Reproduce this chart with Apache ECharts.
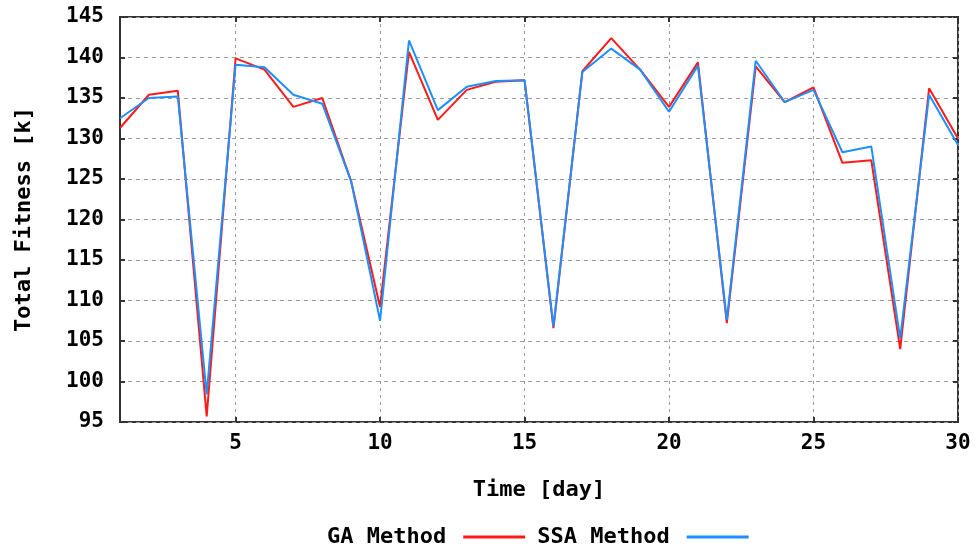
<!DOCTYPE html>
<html>
<head>
<meta charset="utf-8">
<script src="https://cdn.jsdelivr.net/npm/echarts@6/dist/echarts.min.js"></script>
<style>
  html, body { margin: 0; padding: 0; background: #fff; }
  #chart { width: 980px; height: 547px; }
</style>
</head>
<body>
<div id="chart"></div>
<script>
// days 1..30
var days = [1, 2, 3, 4, 5, 6, 7, 8, 9, 10, 11, 12, 13, 14, 15,
  16, 17, 18, 19, 20, 21, 22, 23, 24, 25, 26, 27, 28, 29, 30];
var gaValues = [131.3, 135.4, 135.9, 95.7, 139.9, 138.5, 133.9, 135.0, 124.7, 109.2,
  140.7, 132.3, 136.0, 137.0, 137.2, 106.6, 138.3, 142.4, 138.5, 133.9,
  139.4, 107.2, 138.9, 134.5, 136.3, 127.0, 127.3, 104.0, 136.2, 130.0];
var ssaValues = [132.5, 135.0, 135.2, 98.4, 139.1, 138.8, 135.4, 134.3, 124.7, 107.5,
  142.1, 133.5, 136.4, 137.1, 137.2, 106.8, 138.2, 141.1, 138.5, 133.3,
  139.0, 107.6, 139.6, 134.5, 136.0, 128.3, 129.0, 105.3, 135.4, 129.2];
var xTicks = [5, 10, 15, 20, 25, 30];

var font = '"DejaVu Sans Mono", monospace';

function pairs(vals) {
  return days.map(function(d, i) { return [d, vals[i]]; });
}

var chart = echarts.init(document.getElementById('chart'));

var tickStyle = { color: '#333', width: 2 };

chart.setOption({
  animation: false,
  backgroundColor: '#fff',
  grid: {
    left: 120,
    top: 17,
    right: 22,
    bottom: 125,
    show: true,
    borderColor: '#333',
    borderWidth: 2
  },
  legend: {
    left: 322,
    top: 521,
    align: 'right',
    itemWidth: 62,
    itemHeight: 3,
    itemGap: 12,
    icon: 'rect',
    textStyle: {
      fontFamily: font,
      fontWeight: 'bold',
      fontSize: 22,
      color: '#000',
      padding: [0, 12, 0, 0]
    },
    data: ['GA Method', 'SSA Method']
  },
  xAxis: [{
    type: 'value',
    min: 1,
    max: 30,
    name: 'Time [day]',
    nameLocation: 'middle',
    nameGap: 57,
    nameTextStyle: {
      fontFamily: font,
      fontWeight: 'bold',
      fontSize: 22,
      color: '#000',
      verticalAlign: 'top'
    },
    axisLine: { show: false },
    axisTick: { show: true, inside: true, length: 5, customValues: xTicks, lineStyle: tickStyle },
    axisLabel: {
      customValues: xTicks,
      margin: 11,
      fontFamily: font,
      fontWeight: 'bold',
      fontSize: 21,
      color: '#000'
    },
    splitLine: {
      show: true,
      lineStyle: { color: '#999', width: 1, type: [3, 4] }
    }
  }, {
    type: 'value',
    position: 'top',
    min: 1,
    max: 30,
    axisLine: { show: false },
    axisTick: { show: true, inside: true, length: 5, customValues: xTicks, lineStyle: tickStyle },
    axisLabel: { show: false },
    splitLine: { show: false }
  }],
  yAxis: [{
    type: 'value',
    min: 95,
    max: 145,
    interval: 5,
    name: 'Total Fitness [k]',
    nameLocation: 'middle',
    nameGap: 85,
    nameRotate: 90,
    nameTextStyle: {
      fontFamily: font,
      fontWeight: 'bold',
      fontSize: 22,
      color: '#000'
    },
    axisLine: { show: false },
    axisTick: { show: true, inside: true, length: 5, lineStyle: tickStyle },
    axisLabel: {
      margin: 16,
      fontFamily: font,
      fontWeight: 'bold',
      fontSize: 21,
      color: '#000'
    },
    splitLine: {
      show: true,
      lineStyle: { color: '#999', width: 1, type: [4, 4] }
    }
  }, {
    type: 'value',
    position: 'right',
    min: 95,
    max: 145,
    interval: 5,
    axisLine: { show: false },
    axisTick: { show: true, inside: true, length: 5, lineStyle: tickStyle },
    axisLabel: { show: false },
    splitLine: { show: false }
  }],
  series: [
    {
      name: 'GA Method',
      type: 'line',
      showSymbol: false,
      color: '#ff1a1a',
      lineStyle: { width: 2 },
      data: pairs(gaValues)
    },
    {
      name: 'SSA Method',
      type: 'line',
      showSymbol: false,
      color: '#1e8fff',
      lineStyle: { width: 2 },
      data: pairs(ssaValues)
    }
  ]
});
</script>
</body>
</html>
